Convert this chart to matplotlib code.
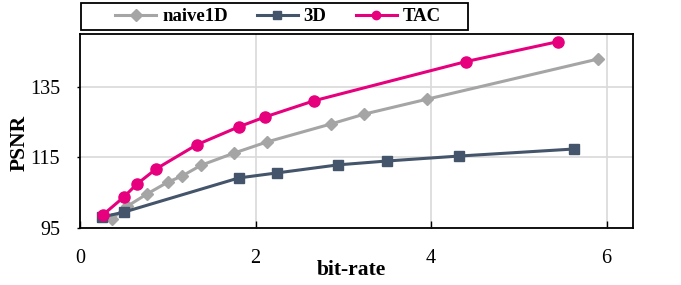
import matplotlib
matplotlib.use('Agg')
from matplotlib import pyplot as plt
from matplotlib.patches import Rectangle

# values
naive_x = [0.36, 0.54, 0.76, 1.00, 1.16, 1.38, 1.75, 2.13, 2.86, 3.24, 3.95, 5.90]
naive_y = [97.5, 101.2, 104.6, 108.0, 109.7, 112.8, 116.2, 119.4, 124.5, 127.3, 131.5, 142.9]

d3_x = [0.25, 0.50, 1.81, 2.24, 2.94, 3.50, 4.32, 5.63]
d3_y = [98.1, 99.5, 109.2, 110.6, 112.9, 114.0, 115.4, 117.4]

tac_x = [0.26, 0.50, 0.65, 0.87, 1.33, 1.81, 2.11, 2.67, 4.40, 5.44]
tac_y = [98.7, 103.8, 107.5, 111.8, 118.6, 123.7, 126.5, 131.1, 142.2, 147.8]

xticks = [0, 2, 4, 6]
yticks = [95, 115, 135]

plt.rcParams['font.family'] = ['Liberation Serif', 'DejaVu Serif']

fig = plt.figure(figsize=(6.81, 2.85), dpi=100)
ax = fig.add_axes([0.1175, 0.2, 0.812, 0.6807])

ax.plot(naive_x, naive_y, '-D', color='#A5A5A5', lw=2.2, ms=6,
        label='naive1D', zorder=3)
ax.plot(d3_x, d3_y, '-s', color='#44546A', lw=2.2, ms=7.5,
        label='3D', zorder=3)
ax.plot(tac_x, tac_y, '-o', color='#E6007E', lw=2.2, ms=8,
        label='TAC', zorder=4)

ax.set_xlim(0, 6.3)
ax.set_ylim(95, 150)
ax.set_xticks(xticks)
ax.set_yticks(yticks)
ax.grid(True, color='#D9D9D9', lw=1.2, zorder=0)
ax.set_axisbelow(True)

ax.tick_params(axis='x', direction='in', length=5, width=1, labelsize=14.5, pad=15)
ax.tick_params(axis='y', direction='out', length=2.5, width=1, labelsize=14.5, pad=12)
for s in ax.spines.values():
    s.set_linewidth(1.3)
    s.set_color('black')

ax.set_xlabel('bit-rate', fontsize=15.5, fontweight='bold', va='center')
ax.xaxis.set_label_coords(0.49, -0.216)
ax.set_ylabel('PSNR', fontsize=15.5, fontweight='bold', va='center')
ax.yaxis.set_label_coords(-0.11, 0.44)

# legend without its own frame, boxed by a separate rectangle
leg = fig.legend(*ax.get_legend_handles_labels(), loc='center',
                 bbox_to_anchor=(0.408, 0.942), ncol=3, frameon=False,
                 handlelength=2.2, handletextpad=0.3, columnspacing=1.55,
                 borderpad=0, prop={'size': 13.5, 'weight': 'bold'})
for h in leg.legend_handles:
    h.set_markersize(6)
fig.patches.append(Rectangle((0.119, 0.8947), 0.568, 0.0947,
                             transform=fig.transFigure, fill=False,
                             edgecolor='black', lw=1.3))

plt.savefig('out.png', dpi=100)
plt.clf()
